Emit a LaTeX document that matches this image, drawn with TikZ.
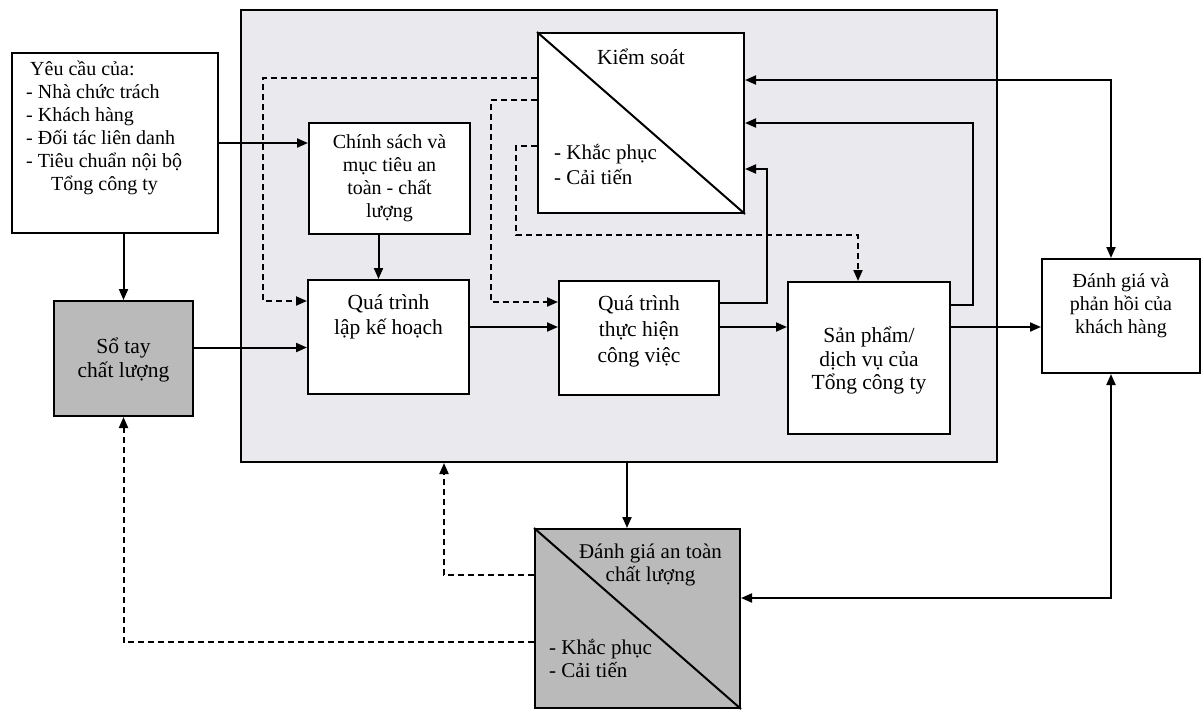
\documentclass[tikz,border=0pt]{standalone}
\usepackage{fontspec}
\setmainfont{Liberation Serif}
\usetikzlibrary{arrows.meta}
\definecolor{panelfill}{RGB}{234,234,238}
\definecolor{boxgray}{RGB}{186,186,186}
\begin{document}
\begin{tikzpicture}[x=1pt,y=-1pt,
  font=\fontsize{20}{23}\selectfont,
  box/.style={draw,line width=2pt,fill=white,inner sep=0pt},
  gbox/.style={box,fill=boxgray},
  txt/.style={align=center,inner sep=0pt},
  bigtxt/.style={txt,font=\fontsize{21.5}{25}\selectfont},
  arr/.style={line width=2pt,-{Triangle[length=11pt,width=9pt]}},
  arrr/.style={line width=2pt,{Triangle[length=11pt,width=9pt]}-{Triangle[length=11pt,width=9pt]}},
  darr/.style={line width=2pt,dash pattern=on 6pt off 4pt,-{Triangle[length=11pt,width=9pt]}},
]
\useasboundingbox (0,0) rectangle (1201,710);
% big panel
\node[draw,line width=2pt,fill=panelfill,minimum width=756pt,minimum height=452pt,inner sep=0pt] (panel) at (619,236) {};
% boxes
\node[box,minimum width=206pt,minimum height=180pt] (req) at (115,143) {};
\node[box,minimum width=161pt,minimum height=111pt] (pol) at (389.5,178.5) {};
\node[box,minimum width=206pt,minimum height=180pt] (ctrl) at (641,123) {};
\node[box,minimum width=161pt,minimum height=114pt] (plan) at (388.5,337) {};
\node[box,minimum width=160pt,minimum height=114pt] (exec) at (639,338) {};
\node[box,minimum width=162pt,minimum height=152pt] (prod) at (869,358) {};
\node[box,minimum width=158pt,minimum height=114pt] (cust) at (1121,316) {};
\node[gbox,minimum width=139pt,minimum height=115pt] (sotay) at (123.5,358.5) {};
\node[gbox,minimum width=205pt,minimum height=179pt] (eval) at (637.5,618.5) {};
\draw[line width=2pt] (ctrl.north west) -- (ctrl.south east);
\draw[line width=2pt] (eval.north west) -- (eval.south east);
% texts
\node[anchor=north west,align=left,inner sep=0pt] (reqT) at ([xshift=15pt,yshift=-9pt]req.north west)
  {\hspace*{4pt}Yêu cầu của:\\- Nhà chức trách\\- Khách hàng\\- Đối tác liên danh\\- Tiêu chuẩn nội bộ\\\hspace*{25pt}Tổng công ty};
\node[txt] (polT) at (pol.center) {Chính sách và\\mục tiêu  an\\toàn - chất\\lượng};
\node[bigtxt] (ctrlA) at ([yshift=66pt]ctrl.center) {Kiểm soát};
\node[anchor=west,align=left,inner sep=0pt,font=\fontsize{21}{25}\selectfont] (ctrlB) at ([xshift=17pt,yshift=-41pt]ctrl.west) {- Khắc phục\\- Cải tiến};
\node[bigtxt] (planT) at ([yshift=20pt]plan.center) {Quá trình\\lập kế hoạch};
\node[bigtxt,font=\fontsize{21.5}{26}\selectfont] (execT) at ([yshift=7pt]exec.center) {Quá trình\\thực hiện\\công việc};
\node[bigtxt,font=\fontsize{21.5}{23.5}\selectfont] (prodT) at ([yshift=-3pt]prod.center) {Sản phẩm/\\dịch vụ của\\Tổng công ty};
\node[txt] (custT) at ([yshift=10pt]cust.center) {Đánh giá và\\phản hồi của\\khách  hàng};
\node[bigtxt,font=\fontsize{21.5}{24}\selectfont] (sotayT) at ([yshift=-1.5pt]sotay.center) {Sổ tay\\chất lượng};
\node[txt,font=\fontsize{21}{23}\selectfont] (evalA) at ([xshift=13pt,yshift=54pt]eval.center) {Đánh giá an toàn\\chất lượng};
\node[anchor=west,align=left,inner sep=0pt,font=\fontsize{21}{23}\selectfont] (evalB) at ([xshift=15pt,yshift=-40pt]eval.west) {- Khắc phục\\- Cải tiến};
% solid connectors
\draw[arr] (req.east) -- (req.east -| pol.west);
\draw[arr] (req.south -| sotay.north) -- (sotay.north);
\draw[arr] ([xshift=-11pt]pol.south) -- ([xshift=-10pt]plan.north);
\draw[arr] ([yshift=11pt]sotay.east) -- ([yshift=11pt]sotay.east -| plan.west);
\draw[arr] ([yshift=10pt]plan.east) -- ([yshift=10pt]plan.east -| exec.west);
\draw[arr] ([yshift=11pt]exec.east) -- ([yshift=11pt]exec.east -| prod.west);
\draw[arr] ([yshift=31pt]prod.east) -- ([yshift=31pt]prod.east -| cust.west);
\coordinate (c8) at ([xshift=22pt,yshift=-46pt]ctrl.east);
\draw[arr] ([yshift=35pt]exec.east) -| (c8) -- ([yshift=-46pt]ctrl.east);
\coordinate (c9) at ([xshift=228pt]ctrl.east);
\draw[arr] ([yshift=53pt]prod.east) -| (c9) -- (ctrl.east);
\draw[arrr] ([yshift=43pt]ctrl.east) -| ([xshift=-10pt]cust.north);
\draw[arrr] ([yshift=20.5pt]eval.east) -| ([xshift=-10pt]cust.south);
\draw[arr] ([xshift=-10.5pt]eval.north |- panel.south) -- ([xshift=-10.5pt]eval.north);
% dashed connectors
\draw[darr] ([yshift=45pt]ctrl.west) -| ([xshift=-44pt,yshift=36pt]plan.west) -- ([yshift=36pt]plan.west);
\draw[darr] ([yshift=23pt]ctrl.west) -| ([xshift=-67pt,yshift=36pt]exec.west) -- ([yshift=36pt]exec.west);
\coordinate (c15) at (516,235);
\draw[darr] ([yshift=-23pt]ctrl.west) -| (c15) -| ([xshift=-11pt]prod.north);
\draw[darr] ([yshift=43.5pt]eval.west) -| ([xshift=-90pt]eval.west |- panel.south);
\draw[darr] ([yshift=-23.5pt]eval.west) -| (sotay.south);
\end{tikzpicture}
\end{document}
